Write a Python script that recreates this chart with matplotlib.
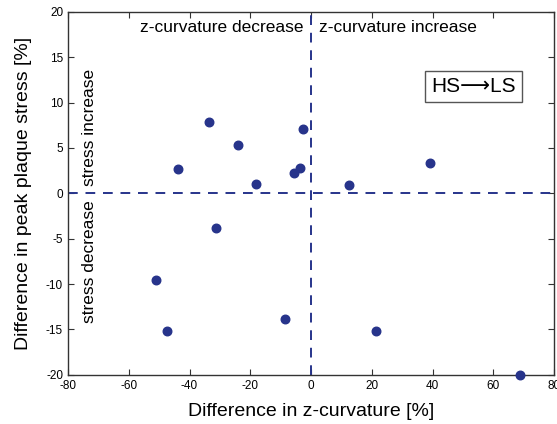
import matplotlib.pyplot as plt
import numpy as np

plt.rcParams['font.family'] = ['Liberation Sans', 'DejaVu Sans']
plt.rcParams['axes.unicode_minus'] = False

# difference in z-curvature [%] and in peak plaque stress [%]
dz = np.array([-33.7, -23.9, -2.6, -3.6, -5.6, -18.0, -43.8, 12.4, 39.2,
               -31.4, -51.0, -47.4, -8.5, 21.2, 68.6])
dstress = np.array([7.9, 5.3, 7.1, 2.8, 2.2, 1.0, 2.7, 0.9, 3.3,
                    -3.8, -9.5, -15.2, -13.8, -15.2, -20.0])

xticks = np.arange(-80, 81, 20)
yticks = np.arange(-20, 21, 5)

col = '#27348b'

fig = plt.figure(figsize=(5.57, 4.24), dpi=100)
ax = fig.add_axes([0.122, 0.116, 0.873, 0.856])

ax.plot([-80, 80], [0, 0], '--', color=col, lw=1.4, dashes=(5, 4))
ax.plot([0, 0], [-20, 20], '--', color=col, lw=1.4, dashes=(5, 4))
ax.scatter(dz, dstress, s=38, color=col, zorder=3, clip_on=False)

ax.set_xlim(-80, 80)
ax.set_ylim(-20, 20)
ax.set_xticks(xticks)
ax.set_yticks(yticks)
ax.tick_params(direction='in', top=True, right=True, labelsize=8.5, length=4,
               color='#333333')
for s in ax.spines.values():
    s.set_color('#333333')
    s.set_linewidth(1.0)

ax.set_xlabel('Difference in z-curvature [%]', fontsize=14, labelpad=8)
ax.set_ylabel('Difference in peak plaque stress [%]', fontsize=14, labelpad=10)

ax.text(-2.5, 18.3, 'z-curvature decrease', ha='right', va='center', fontsize=12.5)
ax.text(2.5, 18.3, 'z-curvature increase', ha='left', va='center', fontsize=12.5)
ax.text(-73, 0.8, 'stress increase', rotation=90, ha='center', va='bottom', fontsize=12.5)
ax.text(-73, -0.8, 'stress decrease', rotation=90, ha='center', va='top', fontsize=12.5)
ax.text(53.3, 11.8, 'HS\u27f6LS', ha='center', va='center', fontsize=15,
        bbox=dict(boxstyle='square,pad=0.3', fc='white', ec='#555555', lw=1))

fig.savefig('out.png', dpi=100)
